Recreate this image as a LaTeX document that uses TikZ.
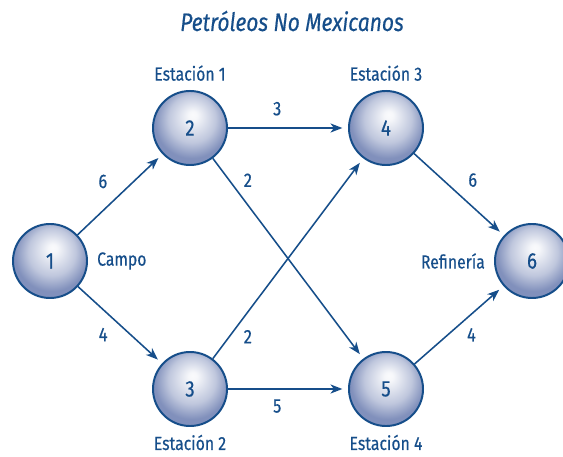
\documentclass[tikz,border=0pt]{standalone}
\usepackage{fontspec}
\setmainfont{Fira Sans}[FakeStretch=0.83, FakeBold=0.4]
\usetikzlibrary{arrows.meta, positioning}
\definecolor{pemexblue}{RGB}{22,78,138}
\definecolor{ballblue}{RGB}{122,138,184}
\pgfdeclareradialshading{stationball}{\pgfpoint{2bp}{9bp}}{%
  color(0bp)=(white!96!ballblue); color(3bp)=(white!93!ballblue);
  color(16bp)=(ballblue!48!white); color(25bp)=(ballblue!95); color(50bp)=(ballblue!95)}

\begin{document}
\begin{tikzpicture}[x=0.025cm, y=-0.025cm,
    station/.style={circle, draw=pemexblue, line width=1.4pt, shading=stationball,
        minimum size=1.85cm, inner sep=0pt, text=pemexblue, font=\fontsize{16}{18}\selectfont},
    caption/.style={text=pemexblue, font=\fontsize{13.5}{15}\selectfont},
    weight/.style={text=pemexblue, font=\fontsize{14}{16}\selectfont},
    link/.style={draw=pemexblue, line width=1.1pt,
        -{Stealth[length=8.5pt, width=6.5pt, inset=2.5pt]}, shorten >=4pt}]
    \useasboundingbox (0,0) rectangle (563,457);

    % title
    \node[text=pemexblue, font=\fontsize{18}{20}\selectfont\itshape] (title) at (292,21) {Petróleos No Mexicanos};

    % stations
    \node[station] (n1) at (50,261) {1};
    \node[station] (n2) at (190,128) {2};
    \node[station] (n3) at (190,389) {3};
    \node[station] (n4) at (386,128) {4};
    \node[station] (n5) at (386,389) {5};
    \node[station] (n6) at (532,261) {6};

    % names
    \node[caption, above=3pt of n2] (l2) {Estación 1};
    \node[caption, below=2pt of n3] (l3) {Estación 2};
    \node[caption, above=3pt of n4] (l4) {Estación 3};
    \node[caption, below=2pt of n5] (l5) {Estación 4};
    \node[caption, right=3pt of n1] (l1) {Campo};
    \node[caption, left=3pt of n6] (l6) {Refinería};

    % links
    \draw[link] (n1) -- node[weight, pos=0.46, above left=4pt] {6} (n2);
    \draw[link] (n1) -- node[weight, pos=0.44, below left=2pt] {4} (n3);
    \draw[link] (n2) -- node[weight, pos=0.41, above=5pt] {3} (n4);
    \draw[link] (n2) -- node[weight, pos=0.17, above right=0pt] {2} (n5);
    \draw[link] (n3) -- node[weight, pos=0.17, below right=0pt] {2} (n4);
    \draw[link] (n3) -- node[weight, pos=0.41, below=3.5pt] {5} (n5);
    \draw[link] (n4) -- node[weight, pos=0.51, above right=3pt] {6} (n6);
    \draw[link] (n5) -- node[weight, pos=0.53, below right=0pt] {4} (n6);
\end{tikzpicture}
\end{document}
